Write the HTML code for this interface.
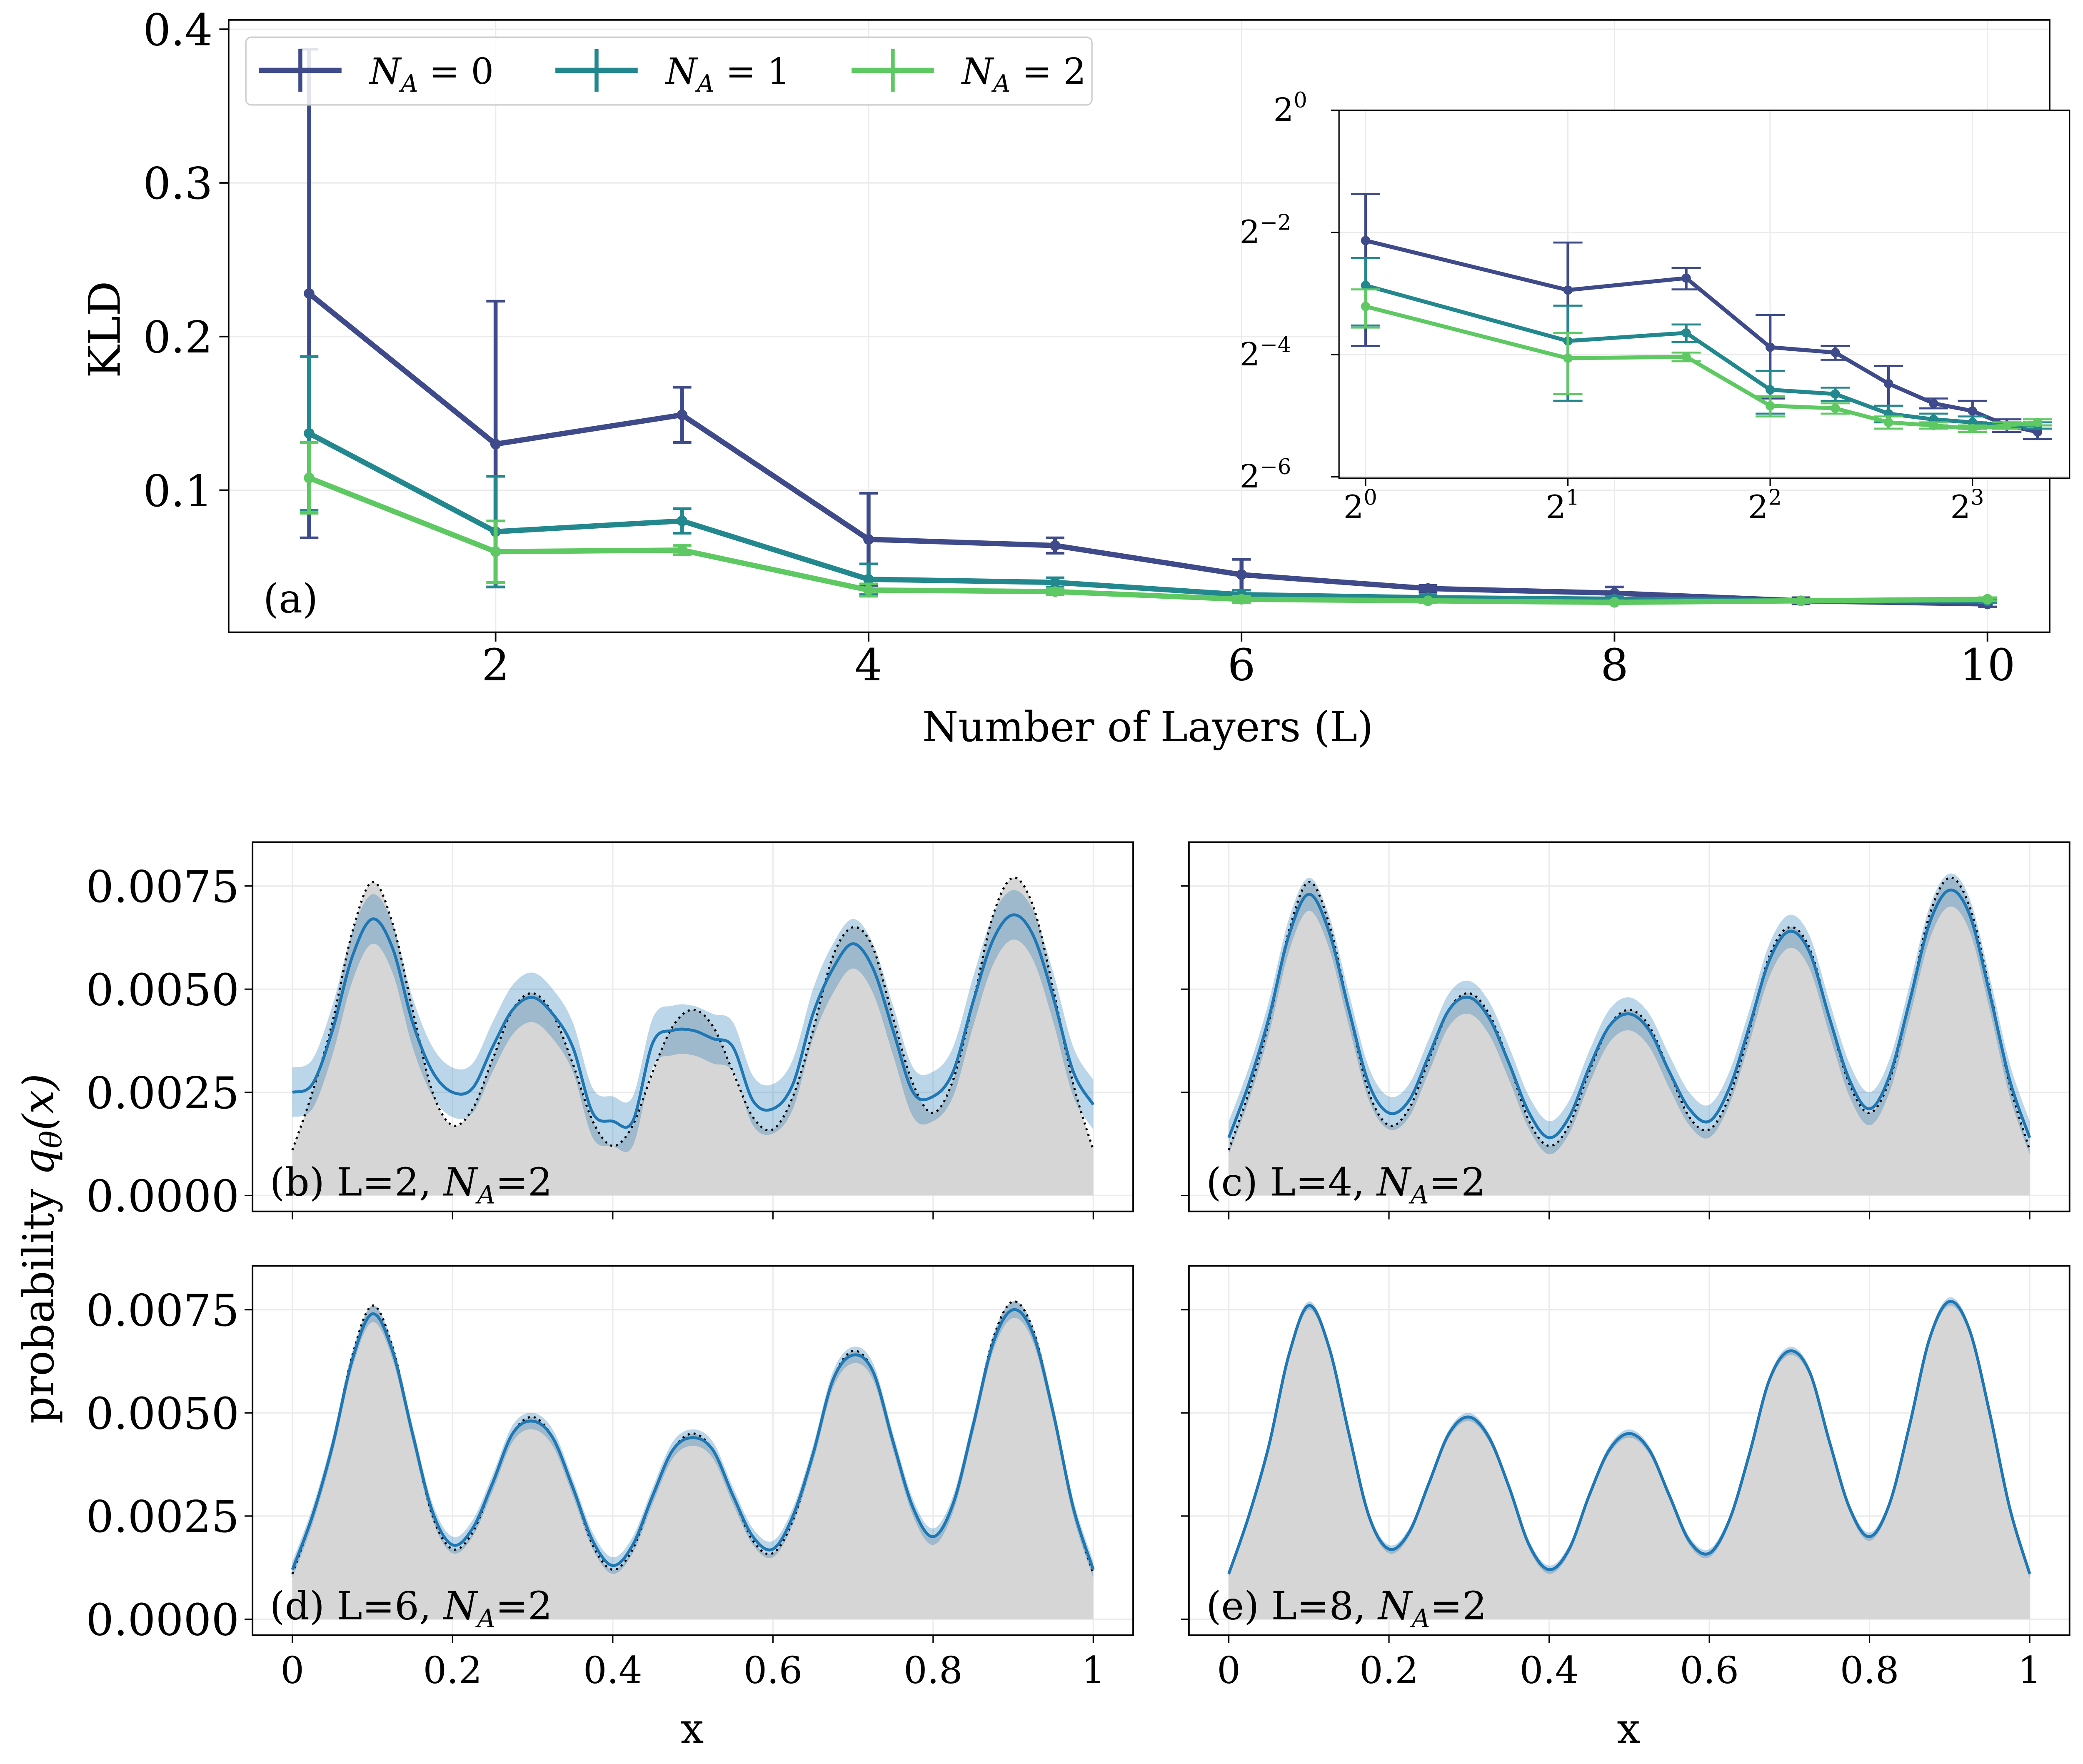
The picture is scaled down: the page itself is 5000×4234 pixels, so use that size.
<!DOCTYPE html>
<html><head><meta charset="utf-8">
<style>
html,body{margin:0;padding:0;background:#fff;}
svg{display:block;font-family:"DejaVu Serif","Liberation Serif",serif;}
</style></head>
<body>
<svg id="fig" width="5000" height="4234" viewBox="0 0 1568 1328" xmlns="http://www.w3.org/2000/svg">
<rect width="1568" height="1328" fill="#fff"/>
</svg>
<script>
// ---------- data ----------
const layers = [1,2,3,4,5,6,7,8,9,10];
const kld0 = [0.228,0.130,0.149,0.068,0.064,0.045,0.036,0.033,0.028,0.026];
const err0 = [0.159,0.093,0.018,0.030,0.005,0.010,0.002,0.004,0.002,0.002];
const kld1 = [0.137,0.073,0.080,0.042,0.040,0.032,0.030,0.029,0.028,0.028];
const err1 = [0.050,0.036,0.008,0.010,0.003,0.003,0.002,0.002,0.001,0.001];
const kld2 = [0.108,0.060,0.061,0.035,0.034,0.029,0.028,0.027,0.028,0.029];
const err2 = [0.023,0.020,0.003,0.004,0.002,0.002,0.001,0.001,0.001,0.001];
const xTicksA = [2,4,6,8,10];
const yTicksA = [0.1,0.2,0.3,0.4];
const insetXTicks = [0,1,2,3];
const insetYTicks = [0,-2,-4,-6];

const xs = [0,0.025,0.05,0.075,0.1,0.125,0.15,0.175,0.2,0.225,0.25,0.275,0.3,0.325,0.35,0.375,0.4,0.425,0.45,0.475,0.5,0.525,0.55,0.575,0.6,0.625,0.65,0.675,0.7,0.725,0.75,0.775,0.8,0.825,0.85,0.875,0.9,0.925,0.95,0.975,1];
const target = [0.0011,0.0025,0.0042,0.0064,0.0076,0.0066,0.0045,0.0025,0.0017,0.0021,0.0033,0.0045,0.0049,0.0044,0.0032,0.0018,0.0012,0.0017,0.0030,0.0041,0.0045,0.0041,0.0030,0.0019,0.0016,0.0024,0.0040,0.0058,0.0065,0.0060,0.0043,0.0027,0.0020,0.0028,0.0047,0.0068,0.0077,0.0070,0.0050,0.0027,0.0011];
const modelL2 = [0.0025,0.0027,0.0040,0.0058,0.0067,0.0060,0.0042,0.0030,0.0025,0.0026,0.0036,0.0045,0.0048,0.0044,0.0036,0.0020,0.0018,0.0018,0.0037,0.0040,0.0040,0.0038,0.0036,0.0023,0.0021,0.0027,0.0044,0.0055,0.0061,0.0055,0.0040,0.0025,0.0024,0.0030,0.0047,0.0062,0.0068,0.0063,0.0048,0.0030,0.0022];
const modelL4 = [0.0014,0.0027,0.0043,0.0063,0.0073,0.0064,0.0045,0.0027,0.0020,0.0023,0.0034,0.0045,0.0048,0.0043,0.0032,0.0020,0.0014,0.0019,0.0031,0.0041,0.0044,0.0040,0.0030,0.0021,0.0018,0.0026,0.0041,0.0057,0.0064,0.0059,0.0043,0.0028,0.0021,0.0029,0.0047,0.0066,0.0074,0.0068,0.0049,0.0028,0.0014];
const modelL6 = [0.0012,0.0025,0.0042,0.0063,0.0074,0.0065,0.0045,0.0026,0.0018,0.0022,0.0033,0.0045,0.0048,0.0044,0.0032,0.0019,0.0013,0.0018,0.0030,0.0041,0.0044,0.0041,0.0030,0.0020,0.0017,0.0025,0.0040,0.0058,0.0064,0.0060,0.0043,0.0027,0.0020,0.0028,0.0047,0.0067,0.0075,0.0069,0.0050,0.0027,0.0012];
const modelL8 = target.slice();
const bandHalf = [0.0006,0.0004,0.0002,0.0001];
const yTicksB = [0,0.0025,0.005,0.0075];
const yTickLabelsB = ["0.0000","0.0025","0.0050","0.0075"];
const xTicksB = [0,0.2,0.4,0.6,0.8,1];
const xTickLabelsB = ["0","0.2","0.4","0.6","0.8","1"];

// ---------- helpers ----------
const NS="http://www.w3.org/2000/svg";
const svg=document.getElementById('fig');
function mk(tag,attrs,parent,text){const e=document.createElementNS(NS,tag);for(const k in attrs)e.setAttribute(k,attrs[k]);if(text!==undefined)e.textContent=text;(parent||svg).appendChild(e);return e;}
function smooth(pts){let d=`M${pts[0][0]},${pts[0][1]}`;for(let i=0;i<pts.length-1;i++){const p0=pts[Math.max(i-1,0)],p1=pts[i],p2=pts[i+1],p3=pts[Math.min(i+2,pts.length-1)];const c1=[p1[0]+(p2[0]-p0[0])/6,p1[1]+(p2[1]-p0[1])/6],c2=[p2[0]-(p3[0]-p1[0])/6,p2[1]-(p3[1]-p1[1])/6];d+=`C${c1[0]},${c1[1]} ${c2[0]},${c2[1]} ${p2[0]},${p2[1]}`;}return d;}
const colors=["#3e4a89","#23888e","#5ec962"];
const kAll=[kld0,kld1,kld2], eAll=[err0,err1,err2];

// ---------- panel (a) ----------
const ax=v=>232.6+(v-1)*140.4, ay=v=>484.7-v*1156.7;
const gA=mk('g',{});


xTicksA.forEach(t=>{mk('line',{x1:ax(t),x2:ax(t),y1:15,y2:476,stroke:'#ebebeb','stroke-width':1},gA);mk('line',{x1:ax(t),x2:ax(t),y1:476,y2:483,stroke:'#000','stroke-width':1.2},gA);
 const tl=mk('text',{x:ax(t),y:512,'font-size':33,'text-anchor':'middle'},gA,String(t));});
yTicksA.forEach(t=>{mk('line',{x1:172,x2:1543,y1:ay(t),y2:ay(t),stroke:'#ebebeb','stroke-width':1},gA);mk('line',{x1:165,x2:172,y1:ay(t),y2:ay(t),stroke:'#000','stroke-width':1.2},gA);
 const tl=mk('text',{x:160,y:ay(t)+12,'font-size':33,'text-anchor':'end'},gA,t.toFixed(1));});
for(let s=0;s<3;s++){
 const g=mk('g',{},gA);
 layers.forEach((L,i)=>{const x=ax(L);mk('line',{x1:x,x2:x,y1:ay(kAll[s][i]+eAll[s][i]),y2:ay(Math.max(kAll[s][i]-eAll[s][i],0)),stroke:colors[s],'stroke-width':3},g);
  [kAll[s][i]+eAll[s][i],kAll[s][i]-eAll[s][i]].forEach(v=>mk('line',{x1:x-7,x2:x+7,y1:ay(v),y2:ay(v),stroke:colors[s],'stroke-width':2},g));});
 mk('polyline',{points:layers.map((L,i)=>ax(L)+','+ay(kAll[s][i])).join(' '),fill:'none',stroke:colors[s],'stroke-width':4,'stroke-linejoin':'round'},g);
 layers.forEach((L,i)=>mk('circle',{cx:ax(L),cy:ay(kAll[s][i]),r:4,fill:colors[s]},g));
}
mk('rect',{x:172,y:15,width:1371,height:461,fill:'none',stroke:'#000','stroke-width':1.2},gA);
// legend
const lg=mk('g',{},gA);
mk('rect',{x:185,y:28,width:637,height:51,rx:4,fill:'#fff','fill-opacity':0.85,stroke:'#ccc','stroke-width':1},lg);
[[195,278,'0'],[418,501,'1'],[641,724,'2']].forEach((p,s)=>{const e=mk('g',{},lg);
 mk('line',{x1:p[0],x2:p[0]+62,y1:53,y2:53,stroke:colors[s],'stroke-width':4},e);mk('line',{x1:p[0]+31,x2:p[0]+31,y1:37,y2:69,stroke:colors[s],'stroke-width':3},e);
 const t=mk('text',{x:p[1],y:63,'font-size':27},e);mk('tspan',{'font-style':'italic'},t,'N');mk('tspan',{'font-style':'italic','font-size':18,dy:6},t,'A');mk('tspan',{dy:-6},t,' = '+p[2]);});
mk('text',{x:198,y:461,'font-size':30},gA,'(a)');
const kl=mk('text',{x:0,y:0,'font-size':33,'text-anchor':'middle',transform:'translate(90,248) rotate(-90)'},gA,'KLD');
const xl=mk('text',{x:864,y:558,'font-size':31,'text-anchor':'middle'},gA,'Number of Layers (L)');

// inset
const ix=v=>1028+Math.log2(v)*152.3, iy=v=>83-Math.log2(v)*46;
const gI=mk('g',{});
mk('rect',{x:1008,y:83,width:550,height:277,fill:'#fff'},gI);
insetXTicks.forEach(t=>{const x=1028+t*152.3;mk('line',{x1:x,x2:x,y1:83,y2:360,stroke:'#ebebeb'},gI);mk('line',{x1:x,x2:x,y1:360,y2:366,stroke:'#000'},gI);
 const tx=mk('text',{x:x-4,y:390,'font-size':24,'text-anchor':'middle'},gI,'2');mk('tspan',{'font-size':16,dy:-10},tx,String(t));});
insetYTicks.forEach(t=>{const y=83-t*46;mk('line',{x1:1008,x2:1558,y1:y,y2:y,stroke:'#ebebeb'},gI);mk('line',{x1:1002,x2:1008,y1:y,y2:y,stroke:'#000'},gI);
 const tx=mk('text',{x:t<0?972:984,y:y+8,'font-size':24,'text-anchor':'end'},gI,'2');mk('tspan',{'font-size':16,dy:-10},tx,String(t).replace('-','−'));});
for(let s=0;s<3;s++){const g=mk('g',{},gI);
 layers.forEach((L,i)=>{const x=ix(L),hi=kAll[s][i]+eAll[s][i],lo=Math.max(kAll[s][i]-eAll[s][i],0.016);mk('line',{x1:x,x2:x,y1:iy(hi),y2:iy(lo),stroke:colors[s],'stroke-width':2},g);
  [hi,lo].forEach(v=>mk('line',{x1:x-11,x2:x+11,y1:iy(v),y2:iy(v),stroke:colors[s],'stroke-width':1.5},g));});
 mk('polyline',{points:layers.map((L,i)=>ix(L)+','+iy(kAll[s][i])).join(' '),fill:'none',stroke:colors[s],'stroke-width':3},g);
 layers.forEach((L,i)=>mk('circle',{cx:ix(L),cy:iy(kAll[s][i]),r:3.5,fill:colors[s]},g));}
mk('rect',{x:1008,y:83,width:550,height:277,fill:'none',stroke:'#000','stroke-width':1},gI);

// ---------- bottom panels ----------
const panels=[
 {name:'panel-b',x0:190,y0:634,model:modelL2,label:'(b) L=2, ',labels:true,xl:false},
 {name:'panel-c',x0:895,y0:634,model:modelL4,label:'(c) L=4, ',labels:false,xl:false},
 {name:'panel-d',x0:190,y0:953,model:modelL6,label:'(d) L=6, ',labels:true,xl:true},
 {name:'panel-e',x0:895,y0:953,model:modelL8,label:'(e) L=8, ',labels:false,xl:true}];
panels.forEach((p,pi)=>{
 const W=663,H=278;const px=v=>p.x0+30+v*603, py=v=>p.y0+266-v*31067;
 const g=mk('g',{});
 xTicksB.forEach((t,i)=>{mk('line',{x1:px(t),x2:px(t),y1:p.y0,y2:p.y0+H,stroke:'#ebebeb'},g);mk('line',{x1:px(t),x2:px(t),y1:p.y0+H,y2:p.y0+H+6,stroke:'#000'},g);
  if(p.xl){const tl=mk('text',{x:px(t),y:p.y0+H+36,'font-size':28,'text-anchor':'middle'},g,xTickLabelsB[i]);}});
 yTicksB.forEach((t,i)=>{mk('line',{x1:p.x0,x2:p.x0+W,y1:py(t),y2:py(t),stroke:'#ebebeb'},g);mk('line',{x1:p.x0-6,x2:p.x0,y1:py(t),y2:py(t),stroke:'#000'},g);
  if(p.labels){const tl=mk('text',{x:p.x0-10,y:py(t)+12,'font-size':33,'text-anchor':'end'},g,yTickLabelsB[i]);}});
 const tp=xs.map((x,i)=>[px(x),py(target[i])]);
 const tFill=mk('path',{d:smooth(tp)+`L${px(1)},${py(0)}L${px(0)},${py(0)}Z`,fill:'#d6d6d6'},g);
 const hi=xs.map((x,i)=>[px(x),py(p.model[i]+bandHalf[pi])]), lo=xs.map((x,i)=>[px(x),py(Math.max(p.model[i]-bandHalf[pi],0))]).reverse();
 const band=mk('path',{d:smooth(hi)+'L'+smooth(lo).slice(1)+'Z',fill:'#1f77b4','fill-opacity':0.3},g);
 const tl=mk('path',{d:smooth(tp),fill:'none',stroke:'#000','stroke-width':1.6,'stroke-dasharray':'1.5 3'},g);
 const ml=mk('path',{d:smooth(xs.map((x,i)=>[px(x),py(p.model[i])])),fill:'none',stroke:'#1f77b4','stroke-width':2.2},g);
 mk('rect',{x:p.x0,y:p.y0,width:W,height:H,fill:'none',stroke:'#000','stroke-width':1.2},g);
 const lb=mk('text',{x:p.x0+13,y:p.y0+266,'font-size':29},g,p.label);mk('tspan',{'font-style':'italic'},lb,'N');mk('tspan',{'font-style':'italic','font-size':19,dy:6},lb,'A');mk('tspan',{dy:-6},lb,'=2');
 if(p.xl){const t=mk('text',{x:p.x0+331,y:1312,'font-size':31,'text-anchor':'middle'},g,'x');}
});
const yl=mk('text',{x:0,y:0,'font-size':32,'text-anchor':'middle',transform:'translate(40,940) rotate(-90)'});


yl.appendChild(document.createTextNode('probability  '));
mk('tspan',{'font-style':'italic'},yl,'q');mk('tspan',{'font-style':'italic','font-size':22,dy:6},yl,'θ');mk('tspan',{'font-style':'italic',dy:-6},yl,'(x)');
</script>
</body></html>
